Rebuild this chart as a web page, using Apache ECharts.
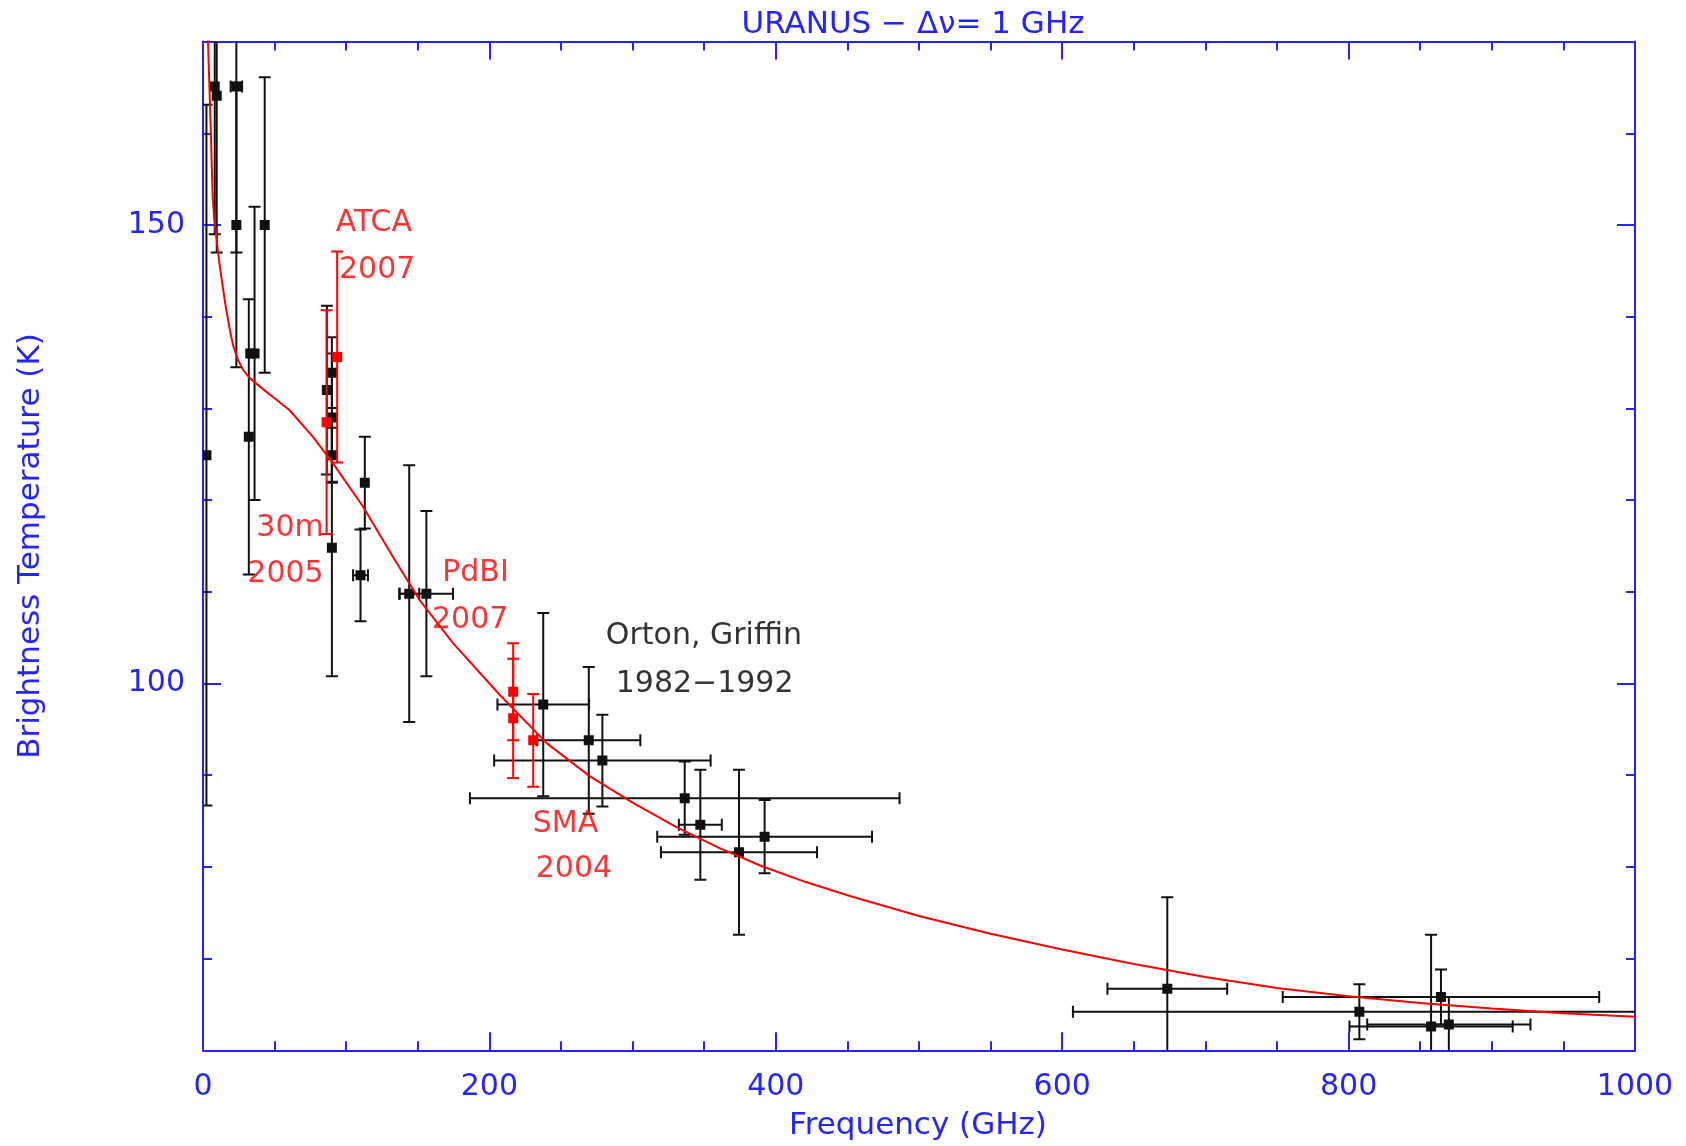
<!DOCTYPE html>
<html>
<head>
<meta charset="utf-8">
<script src="https://cdn.jsdelivr.net/npm/echarts@6/dist/echarts.min.js"></script>
<style>
  html, body { margin: 0; padding: 0; background: #fff; }
  #chart { width: 1686px; height: 1146px; }
</style>
</head>
<body>
<div id="chart"></div>
<script>
// Uranus brightness temperature vs frequency

// black points (Orton, Griffin and others): freq (GHz), Tb (K), freq err, Tb err
const blackFreq = [2.4, 8.2, 9.6, 23.3, 23.3, 43.1, 32.0, 36.0, 33.0,
  86.5, 90.0, 90.0, 90.0, 90.0, 110.0, 113.0, 144.0, 156.0,
  237.6, 269.4, 278.9, 336.4, 347.3, 392.2, 374.3,
  673.4, 807.5, 864.5, 857.6, 870.0];
const blackTemp = [124.9, 165.1, 164.1, 165.1, 150.0, 150.0, 126.9, 136.0, 136.0,
  132.0, 133.9, 129.0, 124.9, 114.8, 111.8, 121.9, 109.8, 109.8,
  97.7, 93.8, 91.6, 87.5, 84.6, 83.3, 81.6,
  66.7, 64.2, 65.8, 62.6, 62.8];
const blackFreqErr = [0, 0, 0, 4, 0, 0, 0, 0, 0,
  0, 0, 0, 0, 0, 5.2, 0, 7, 18.6,
  32, 36, 75.6, 150, 15, 75, 54.5,
  41.8, 200, 110.5, 57, 57];
const blackTempErr = [38.2, 16.1, 17.1, 18.1, 15.5, 16.1, 15, 16, 0,
  9.2, 3.85, 7, 3, 14, 5, 5, 14, 9,
  10, 8, 5, 4, 6, 4, 9,
  10, 3, 3, 10, 3];

// red points (30m 2005, ATCA 2007, PdBI 2007, SMA 2004)
const redFreq = [86.3, 93.7, 216.6, 216.6, 230.6];
const redTemp = [128.5, 135.6, 99.1, 96.2, 93.8];
const redTempErr = [12.2, 11.5, 5.3, 6.5, 5.05];

// model curve
const modelFreq = [2.8, 3.5, 4.4, 5.5, 6.7, 7.7, 9.9, 11.5, 14, 16, 18.7, 21, 24.4, 28, 32.6, 41.9, 50,
  60.5, 76.8, 90.8, 111.7, 132.7, 151.3, 174.6, 207, 240, 270, 300, 330, 360, 390, 420,
  450, 500, 550, 600, 650, 700, 750, 800, 850, 900, 950, 1000];
const modelTemp = [174, 170, 165.5, 160, 153.2, 151.0, 147.9, 145.8, 143.0, 141.0, 138.6, 136.9, 135.3, 134.2, 133.3, 132.1, 131.1,
  129.8, 126.9, 124.0, 119.3, 113.8, 109.1, 104.4, 98.8, 93.5, 89.9, 87.0, 84.4, 82.1, 80.1, 78.4,
  76.9, 74.65, 72.7, 71.0, 69.4, 68.0, 66.8, 65.9, 65.15, 64.55, 64.05, 63.65];

// text annotations: position in data coords
const noteText = ['ATCA', '2007', '30m', '2005', 'PdBI', '2007', 'SMA', '2004', 'Orton, Griffin', '1982\u22121992'];
const noteFreq = [119.3, 121.6, 60.8, 57.6, 190.3, 186.6, 253.1, 259.0, 349.8, 350.3];
const noteTemp = [150.2, 145.1, 116.9, 111.9, 112.0, 106.9, 84.7, 79.8, 105.2, 99.9];
const noteColor = ['#ff0000', '#ff0000', '#ff0000', '#ff0000', '#ff0000', '#ff0000', '#ff0000', '#ff0000', '#000000', '#000000'];

const BLUE = '#2424ff';
const FONT = 'DejaVu Sans';

function errorBars(color) {
  return function (params, api) {
    const x = api.value(0), y = api.value(1), dx = api.value(2), dy = api.value(3);
    const c = api.coord([x, y]);
    const style = { stroke: color, lineWidth: 2 };
    const cap = 6;
    const kids = [];
    if (dy > 0) {
      const hi = api.coord([x, y + dy]);
      const lo = api.coord([x, y - dy]);
      kids.push({ type: 'line', shape: { x1: c[0], y1: hi[1], x2: c[0], y2: lo[1] }, style });
      kids.push({ type: 'line', shape: { x1: c[0] - cap, y1: hi[1], x2: c[0] + cap, y2: hi[1] }, style });
      kids.push({ type: 'line', shape: { x1: c[0] - cap, y1: lo[1], x2: c[0] + cap, y2: lo[1] }, style });
    }
    if (dx > 0) {
      const l = api.coord([x - dx, y]);
      const r = api.coord([x + dx, y]);
      kids.push({ type: 'line', shape: { x1: l[0], y1: c[1], x2: r[0], y2: c[1] }, style });
      kids.push({ type: 'line', shape: { x1: l[0], y1: c[1] - cap, x2: l[0], y2: c[1] + cap }, style });
      kids.push({ type: 'line', shape: { x1: r[0], y1: c[1] - cap, x2: r[0], y2: c[1] + cap }, style });
    }
    kids.push({ type: 'rect', shape: { x: c[0] - 5, y: c[1] - 5, width: 10, height: 10 }, style: { fill: color } });
    return { type: 'group', children: kids };
  };
}

const blueLine = { show: true, lineStyle: { color: BLUE, width: 2 } };
const tickStyle = { color: BLUE, width: 2 };

function xAxisCfg(pos, labels) {
  return {
    type: 'value', position: pos, min: 0, max: 1000, interval: 200,
    axisLine: blueLine,
    axisTick: { show: true, inside: true, length: 18, lineStyle: tickStyle },
    minorTick: { show: true, splitNumber: 4, length: 9, lineStyle: tickStyle },
    axisLabel: { show: labels, color: BLUE, fontSize: 30, fontFamily: FONT, margin: 22, formatter: (v) => String(v) },
    splitLine: { show: false }, minorSplitLine: { show: false }
  };
}
function yMinor(pos, labels) {
  return {
    type: 'value', position: pos, min: 60, max: 170, interval: 10,
    axisLine: blueLine,
    axisTick: { show: true, inside: true, length: 9, lineStyle: tickStyle },
    axisLabel: {
      show: labels, color: BLUE, fontSize: 30, fontFamily: FONT, margin: 18,
      formatter: (v) => (v === 100 || v === 150 ? String(v) : '')
    },
    splitLine: { show: false }
  };
}
function yMajor(pos) {
  return {
    type: 'value', position: pos, min: 60, max: 170,
    axisLine: { show: false },
    axisTick: { show: true, inside: true, length: 18, lineStyle: tickStyle, customValues: [100, 150] },
    axisLabel: { show: false },
    splitLine: { show: false }
  };
}

const chart = echarts.init(document.getElementById('chart'), null, { renderer: 'canvas' });
chart.setOption({
  backgroundColor: '#ffffff',
  animation: false,
  grid: { left: 203, right: 51, top: 41.6, bottom: 95.7, containLabel: false },
  xAxis: [xAxisCfg('bottom', true), xAxisCfg('top', false)],
  yAxis: [yMinor('left', true), yMajor('left'), yMinor('right', false), yMajor('right')],
  graphic: [
    { type: 'text', x: 913, y: 25, style: { text: 'URANUS \u2212 \u0394\u03bd= 1 GHz', fill: BLUE, fontSize: 31, fontFamily: FONT, align: 'center', verticalAlign: 'middle' } },
    { type: 'text', x: 918, y: 1126, style: { text: 'Frequency (GHz)', fill: BLUE, fontSize: 31, fontFamily: FONT, align: 'center', verticalAlign: 'middle' } },
    { type: 'text', x: 31, y: 546, rotation: Math.PI / 2, style: { text: 'Brightness Temperature (K)', fill: BLUE, fontSize: 31, fontFamily: FONT, align: 'center', verticalAlign: 'middle' } }
  ],
  series: [
    {
      type: 'line', name: 'model', xAxisIndex: 0, yAxisIndex: 0,
      data: modelFreq.map((f, i) => [f, modelTemp[i]]),
      showSymbol: false, clip: true, silent: true,
      lineStyle: { color: '#ff0000', width: 2 }
    },
    {
      type: 'custom', name: 'Orton, Griffin', xAxisIndex: 0, yAxisIndex: 0, clip: true, silent: true,
      renderItem: errorBars('#111111'),
      data: blackFreq.map((f, i) => [f, blackTemp[i], blackFreqErr[i], blackTempErr[i]])
    },
    {
      type: 'custom', name: 'new', xAxisIndex: 0, yAxisIndex: 0, clip: true, silent: true,
      renderItem: errorBars('#ff0000'),
      data: redFreq.map((f, i) => [f, redTemp[i], 0, redTempErr[i]])
    },
    {
      type: 'scatter', name: 'notes', xAxisIndex: 0, yAxisIndex: 0, symbolSize: 0, silent: true,
      data: noteText.map((t, i) => ({
        name: t, value: [noteFreq[i], noteTemp[i]],
        label: { color: noteColor[i] }
      })),
      label: { show: true, position: 'inside', formatter: (p) => p.name, fontSize: 30, fontFamily: FONT }
    }
  ]
});
</script>
</body>
</html>
